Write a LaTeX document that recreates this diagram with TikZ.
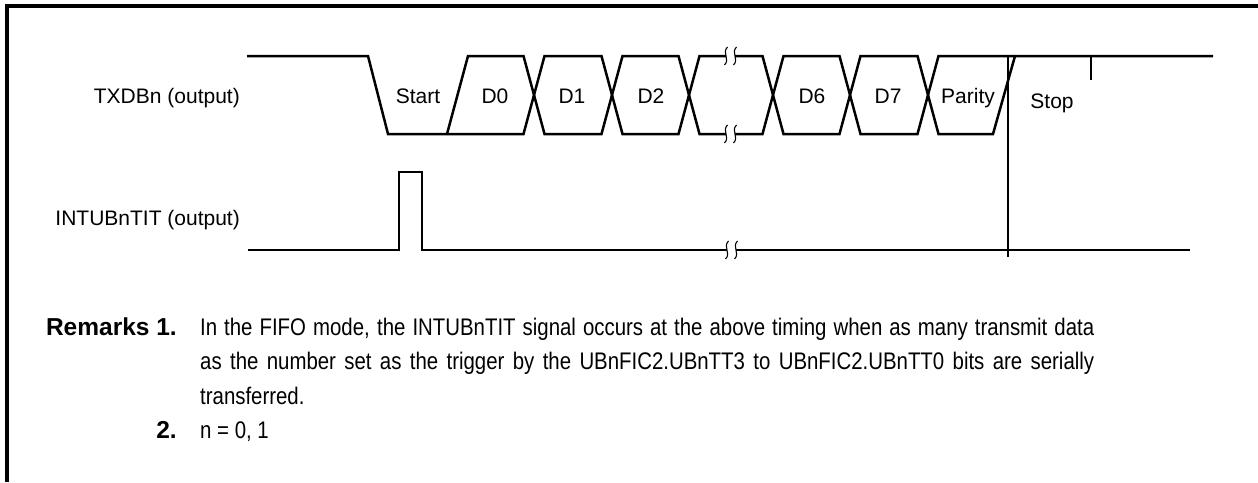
\documentclass[tikz,border=0pt]{standalone}
\usepackage{fontspec}
\setmainfont{Liberation Sans}
\newfontfamily\remfont[FakeStretch=0.85]{Liberation Sans}
\begin{document}
\begin{tikzpicture}[x=1pt,y=-1pt,
  wave/.style={line width=2.5pt, line join=miter},
  thinl/.style={line width=1.1pt},
  frameline/.style={line width=3.4pt},
  lbl/.style={font=\fontsize{21}{25}\selectfont, inner sep=0pt},
  rem/.style={font=\remfont\fontsize{24}{30}\selectfont, inner sep=0pt, anchor=base west},
  remhead/.style={font=\fontsize{24.5}{30}\selectfont\bfseries, inner sep=0pt, anchor=base east},
  brk/.pic={\draw[line width=1.1pt] (1.5,-9) .. controls (-4.5,-3) and (4.5,3) .. (-1.5,9);}
]
\useasboundingbox (0,0) rectangle (1258,482);
% frame
\draw[frameline] (7,482) -- (7,6) -- (1258,6);

% signal names
\node[lbl, anchor=base east] (txd) at (240,103) {TXDBn (output)};
\node[lbl, anchor=base east] (intu) at (240,225) {INTUBnTIT (output)};

% TXDBn waveform
\coordinate (t0) at (247,56);
\draw[wave] (t0) -- (368,56) -- (388,134) -- (523.5,134) -- (544.5,56) -- (601.5,56)
  -- (622.5,134) -- (678.5,134) -- (699.5,56) -- (726,56);
\draw[wave] (735,56) -- (762.5,56) -- (783.5,134) -- (839.5,134) -- (860.5,56)
  -- (917.5,56) -- (938.5,134) -- (993,134) -- (1015,56) -- (1213,56);
\draw[wave] (447,134) -- (468,56) -- (523.5,56) -- (544.5,134) -- (601.5,134)
  -- (622.5,56) -- (678.5,56) -- (699.5,134) -- (726,134);
\draw[wave] (735,134) -- (762.5,134) -- (783.5,56) -- (839.5,56) -- (860.5,134)
  -- (917.5,134) -- (938.5,56) -- (1015,56);
\pic at (726,56) {brk};
\pic at (735,56) {brk};
\pic at (726,134) {brk};
\pic at (735,134) {brk};
% stop tick
\draw[wave] (1091,56) -- (1091,80);

% bit labels
\node[lbl, anchor=base] (bs) at (418,103.5) {Start};
\node[lbl, anchor=base] (b0) at (495,103.5) {D0};
\node[lbl, anchor=base] (b1) at (572,103.5) {D1};
\node[lbl, anchor=base] (b2) at (651,103.5) {D2};
\node[lbl, anchor=base] (b6) at (812,103.5) {D6};
\node[lbl, anchor=base] (b7) at (888,103.5) {D7};
\node[lbl, anchor=base] (bp) at (968,103.5) {Parity};
\node[lbl, anchor=base] (bst) at (1052,108) {Stop};

% INTUBnTIT waveform
\draw[wave] (248,250) -- (399,250) -- (399,172) -- (422,172) -- (422,250) -- (727,250);
\draw[wave] (736,250) -- (1190,250);
\pic at (727,250) {brk};
\pic at (736,250) {brk};

% vertical marker
\draw[thinl] (1008,56) -- (1008,257);

% remarks
\node[remhead] (rh) at (177,335) {Remarks 1.};
\node[rem] (r1) at (200,335) {\makebox[894pt][s]{In the FIFO mode, the INTUBnTIT signal occurs at the above timing when as many transmit data}};
\node[rem] (r2) at (200,369) {\makebox[894pt][s]{as the number set as the trigger by the UBnFIC2.UBnTT3 to UBnFIC2.UBnTT0 bits are serially}};
\node[rem] (r3) at (200,404) {transferred.};
\node[remhead] (rn) at (177,438) {2.};
\node[rem] (r4) at (200,438) {n = 0, 1};
\end{tikzpicture}
\end{document}
